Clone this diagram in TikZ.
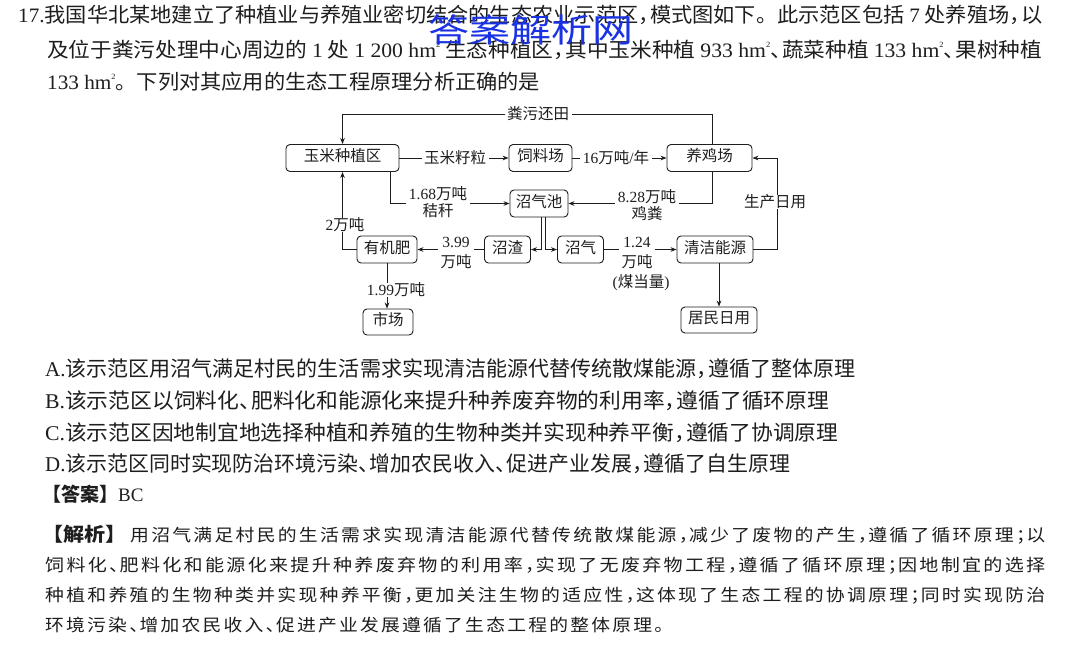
\documentclass[tikz,border=0pt]{standalone}
\usepackage{fontspec}
\usepackage{graphicx}
\setmainfont{Noto Sans CJK SC}
\newfontfamily\lat{Liberation Serif}
\newfontfamily\jx{Noto Sans CJK SC}[LetterSpace=12]
\usetikzlibrary{arrows.meta}
\definecolor{ink}{HTML}{1E1E1E}
\definecolor{wmblue}{RGB}{25,50,228}
\newcommand\qcm{，\kern-0.45em}
\newcommand\dun{、\kern-0.45em}
\newcommand\fen{；\kern-0.45em}
\newcommand\hms{\raisebox{0.5em}{\fontsize{8}{8}\selectfont 2}}
\tikzset{
  box/.style={draw=ink, rounded corners=4pt, line width=0.9pt, inner sep=0pt,
    minimum height=27pt, text height=0.74em, text depth=0pt,
    font=\fontsize{15.5}{17}\selectfont, text=ink},
  arr/.style={draw=ink, line width=0.9pt, -{Stealth[length=6pt,width=4.6pt]}},
  ln/.style={draw=ink, line width=0.9pt},
  lab/.style={fill=white, inner xsep=2.5pt, inner ysep=0pt, align=center,
    font=\fontsize{15.5}{17}\selectfont, text=ink},
  txt/.style={anchor=west, inner sep=0pt, text=ink, text height=0.74em, text depth=0pt},
  qf/.style={txt, font=\fontsize{20.5}{24}\selectfont},
  of/.style={txt, font=\fontsize{21}{24}\selectfont},
  jf/.style={txt, font=\fontsize{17}{20}\selectfont}
}
\begin{document}
\begin{tikzpicture}[x=1pt,y=-1pt]
\fill[white] (0,0) rectangle (1074,646);
\useasboundingbox (0,0) rectangle (1074,646);

% ---------- question text ----------
\node[qf] (q1) at (18,19) {\resizebox{1024pt}{\height}{{\lat 17.}我国华北某地建立了种植业与养殖业密切结合的生态农业示范区\qcm 模式图如下。此示范区包括 {\lat 7} 处养殖场\qcm 以}};
\node[qf] (q2) at (47,54) {\resizebox{995pt}{\height}{及位于粪污处理中心周边的 {\lat 1} 处 {\lat 1 200 hm\hms} 生态种植区\qcm 其中玉米种植 {\lat 933 hm\hms}\dun 蔬菜种植 {\lat 133 hm\hms}\dun 果树种植}};
\node[qf] (q3) at (47,86) {\resizebox{493pt}{\height}{{\lat 133 hm\hms}。下列对其应用的生态工程原理分析正确的是}};

% ---------- watermark ----------
\node[inner sep=0pt, text=wmblue, font=\fontsize{33}{33}\selectfont] (wm) at (531,30) {\resizebox{205pt}{\height}{答案解析网}};

% ---------- diagram boxes ----------
\node[box, minimum width=113pt] (yumi) at (342.5,158) {玉米种植区};
\node[box, minimum width=63pt] (siliao) at (540.5,158) {饲料场};
\node[box, minimum width=85pt] (yangji) at (709.5,158) {养鸡场};
\node[box, minimum width=58pt] (chi) at (539,203.5) {沼气池};
\node[box, minimum width=60pt] (fei) at (387,249.5) {有机肥};
\node[box, minimum width=46pt] (zha) at (507.5,249.5) {沼渣};
\node[box, minimum width=46pt] (qi) at (580.5,249.5) {沼气};
\node[box, minimum width=76pt] (neng) at (715,249.5) {清洁能源};
\node[box, minimum width=50pt, minimum height=26pt] (shi) at (388,322) {市场};
\node[box, minimum width=76pt, minimum height=26pt] (ju) at (719,320) {居民日用};

% ---------- helper coordinates ----------
\coordinate (tr) at (712,114);
\coordinate (tl) at (342.5,114);
\coordinate (xr) at (712,0);
\coordinate (xs) at (390,0);
\coordinate (xl) at (541.5,0);
\coordinate (xm) at (545.5,0);
\coordinate (gr) at (777,158);

% ---------- connectors ----------
\draw[arr] (yangji.north -| xr) -- (tr) -- (tl) -- (yumi.north);
\draw[arr] (yumi.east) -- (siliao.west);
\draw[arr] (siliao.east) -- (yangji.west);
\draw[arr] (yumi.south -| xs) |- (chi.west);
\draw[arr] (yangji.south -| xr) |- (chi.east);
\draw[arr] (chi.south -| xl) |- (zha.east);
\draw[arr] (chi.south -| xm) |- (qi.west);
\draw[arr] (zha.west) -- (fei.east);
\draw[arr] (fei.west) -| (yumi.south);
\draw[arr] (fei.south) -- (fei.south |- shi.north);
\draw[arr] (qi.east) -- (neng.west);
\draw[arr] (neng.east) -| (gr) -- (yangji.east);
\draw[arr] (ju.north |- neng.south) -- (ju.north);

% ---------- connector labels ----------
\node[lab] (l1) at (538,114) {粪污还田};
\node[lab] (l2) at (455,158) {玉米籽粒};
\node[lab] (l3) at (616,158) {{\lat 16}万吨{\lat /}年};
\node[lab] (l4) at (438,202.5) {{\lat 1.68}万吨\\秸秆};
\node[lab] (l5) at (647,205) {{\lat 8.28}万吨\\鸡粪};
\node[lab] (l6) at (775,202) {生产日用};
\node[lab] (l7) at (345,225) {{\lat 2}万吨};
\node[lab] (l8) at (456,253) {{\lat 3.99}\\[3pt]万吨};
\node[lab] (l9) at (637,253) {{\lat 1.24}\\[3pt]万吨};
\node[lab, fill=none] (l10) at (641,283) {{\lat(}煤当量{\lat)}};
\node[lab] (l11) at (396,290) {{\lat 1.99}万吨};

% ---------- options ----------
\node[of] (oa) at (45,373) {\resizebox{810pt}{\height}{{\lat A.}该示范区用沼气满足村民的生活需求实现清洁能源代替传统散煤能源\qcm 遵循了整体原理}};
\node[of] (ob) at (45,405) {\resizebox{784pt}{\height}{{\lat B.}该示范区以饲料化\dun 肥料化和能源化来提升种养废弃物的利用率\qcm 遵循了循环原理}};
\node[of] (oc) at (45,437) {\resizebox{793pt}{\height}{{\lat C.}该示范区因地制宜地选择种植和养殖的生物种类并实现种养平衡\qcm 遵循了协调原理}};
\node[of] (od) at (45,468) {\resizebox{745pt}{\height}{{\lat D.}该示范区同时实现防治环境污染\dun 增加农民收入\dun 促进产业发展\qcm 遵循了自生原理}};

% ---------- answer & explanation ----------
\node[txt, font=\fontsize{19}{22}\selectfont] (ans) at (42,498) {{\bfseries 【答案】}{\lat BC}};
\node[jf] (j1) at (42,538) {\resizebox{1003pt}{\height}{{\bfseries\fontsize{19}{22}\selectfont 【解析】}\hspace{0.2em}{\jx 用沼气满足村民的生活需求实现清洁能源代替传统散煤能源\qcm 减少了废物的产生\qcm 遵循了循环原理\fen 以}}};
\node[jf] (j2) at (45,568) {\resizebox{1000pt}{\height}{\jx 饲料化\dun 肥料化和能源化来提升种养废弃物的利用率\qcm 实现了无废弃物工程\qcm 遵循了循环原理\fen 因地制宜的选择}};
\node[jf] (j3) at (45,598) {\resizebox{1000pt}{\height}{\jx 种植和养殖的生物种类并实现种养平衡\qcm 更加关注生物的适应性\qcm 这体现了生态工程的协调原理\fen 同时实现防治}};
\node[jf] (j4) at (45,628) {\resizebox{628pt}{\height}{\jx 环境污染\dun 增加农民收入\dun 促进产业发展遵循了生态工程的整体原理。}};
\end{tikzpicture}
\end{document}
